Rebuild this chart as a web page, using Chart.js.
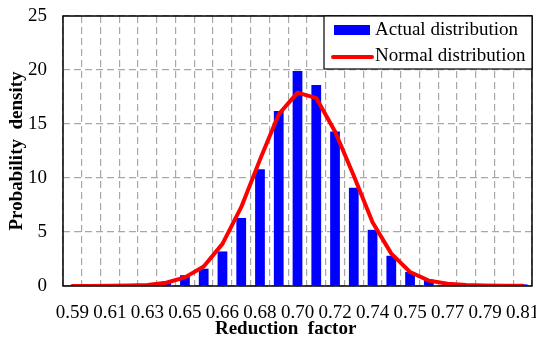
<!DOCTYPE html>
<html lang="en">
<head>
    <meta charset="UTF-8">
    <title>Reduction factor distribution</title>
    <style>
        html, body { margin: 0; padding: 0; background: #fff; }
    </style>
</head>
<body>
    <canvas id="myChart" width="536" height="340"></canvas>

    <script src="https://cdn.jsdelivr.net/npm/chart.js"></script>
    <script>
        // bin centres (reduction factor), every other one gets a tick label
        const categories = ['0.590', '0.599', '0.608', '0.618', '0.627', '0.636', '0.645', '0.654', '0.663',
            '0.673', '0.682', '0.691', '0.700', '0.709', '0.718', '0.728', '0.737', '0.746', '0.755',
            '0.764', '0.773', '0.783', '0.792', '0.801', '0.810'];
        const tickLabels = ['0.59', '0.61', '0.63', '0.65', '0.66', '0.68', '0.70',
            '0.72', '0.74', '0.75', '0.77', '0.79', '0.81'];

        const actual = [0, 0, 0, 0, 0.05, 0.3, 1.0, 1.6, 3.2, 6.3, 10.8, 16.2, 19.9,
            18.6, 14.3, 9.1, 5.2, 2.8, 1.3, 0.6, 0.3, 0.15, 0.1, 0.1, 0.15];
        const normal = [0.0, 0.01, 0.02, 0.05, 0.1, 0.3, 0.8, 1.8, 3.9, 7.3, 11.7, 15.9, 17.9,
            17.4, 14.3, 10.2, 5.9, 3.0, 1.3, 0.5, 0.2, 0.1, 0.05, 0.03, 0.02];

        const yMin = 0, yMax = 25, yStep = 5;

        const serif = "'Liberation Serif', 'Times New Roman', serif";
        const gridColor = '#a8a8a8';

        Chart.defaults.font.family = serif;
        Chart.defaults.font.size = 19;
        Chart.defaults.color = '#000';

        // frame round the plot + legend box in the upper right corner
        const boxLegend = {
            id: 'boxLegend',
            afterDatasetsDraw(chart) {
                const { ctx, chartArea: a } = chart;
                const sets = chart.data.datasets;
                ctx.save();
                ctx.strokeStyle = '#000';
                ctx.lineWidth = 1.5;
                ctx.strokeRect(a.left, a.top, a.right - a.left, a.bottom - a.top);

                const w = 208, h = 53;
                const x0 = a.right - w, y0 = a.top;
                ctx.fillStyle = '#fff';
                ctx.fillRect(x0, y0, w, h);
                ctx.lineWidth = 1.2;
                ctx.strokeRect(x0, y0, w, h);

                ctx.fillStyle = sets[0].backgroundColor;
                ctx.fillRect(x0 + 10, y0 + 9, 36, 10);

                ctx.strokeStyle = sets[1].borderColor;
                ctx.lineWidth = 4;
                ctx.lineCap = 'round';
                ctx.beginPath();
                ctx.moveTo(x0 + 9, y0 + 41);
                ctx.lineTo(x0 + 48, y0 + 41);
                ctx.stroke();

                ctx.fillStyle = '#000';
                ctx.font = '19px ' + serif;
                ctx.textBaseline = 'middle';
                ctx.textAlign = 'left';
                ctx.fillText(sets[0].label, x0 + 51, y0 + 14);
                ctx.fillText(sets[1].label, x0 + 51, y0 + 40);
                ctx.restore();
            }
        };

        const ctx = document.getElementById('myChart');

        new Chart(ctx, {
            type: 'bar',
            data: {
                labels: categories,
                datasets: [
                    {
                        type: 'bar',
                        label: 'Actual distribution',
                        data: actual,
                        backgroundColor: '#0000ff',
                        barPercentage: 0.52,
                        categoryPercentage: 1,
                        order: 2,
                    },
                    {
                        type: 'line',
                        label: 'Normal distribution',
                        data: normal,
                        borderColor: '#ff0000',
                        borderWidth: 4,
                        pointRadius: 0,
                        tension: 0,
                        fill: false,
                        borderCapStyle: 'round',
                        borderJoinStyle: 'round',
                        order: 1,
                    },
                ],
            },
            options: {
                responsive: false,
                animation: false,
                devicePixelRatio: 1,
                layout: { padding: { top: 16, right: 4, left: 0, bottom: 0 } },
                plugins: {
                    legend: { display: false },
                    tooltip: { enabled: false },
                },
                scales: {
                    x: {
                        offset: true,
                        grid: { offset: true, color: gridColor, lineWidth: 1.2, drawTicks: false },
                        border: { display: false, dash: [7, 4] },
                        ticks: {
                            autoSkip: false,
                            maxRotation: 0,
                            minRotation: 0,
                            padding: 16,
                            callback: (v, i) => (i % 2 === 0 ? tickLabels[i / 2] : ''),
                        },
                        title: {
                            display: true,
                            // trailing spaces nudge the centred title a little left, as in the original
                            text: 'Reduction  factor     ',
                            font: { weight: 'bold', size: 19 },
                            padding: { top: 0, bottom: 0 },
                        },
                        afterFit(s) {
                            s.height = 54;
                            s.paddingLeft = 0;
                            s.paddingRight = 0;
                        },
                    },
                    y: {
                        min: yMin,
                        max: yMax,
                        grid: { color: gridColor, lineWidth: 1.2, drawTicks: false },
                        border: { display: false, dash: [7, 4] },
                        ticks: { stepSize: yStep, padding: 16 },
                        title: {
                            display: true,
                            text: 'Probability  density',
                            font: { weight: 'bold', size: 19 },
                            padding: { top: 6, bottom: 0 },
                        },
                        afterFit(s) {
                            s.width = 63;
                            s.paddingTop = 0;
                            s.paddingBottom = 0;
                        },
                    },
                },
            },
            plugins: [boxLegend],
        });
    </script>
</body>
</html>
